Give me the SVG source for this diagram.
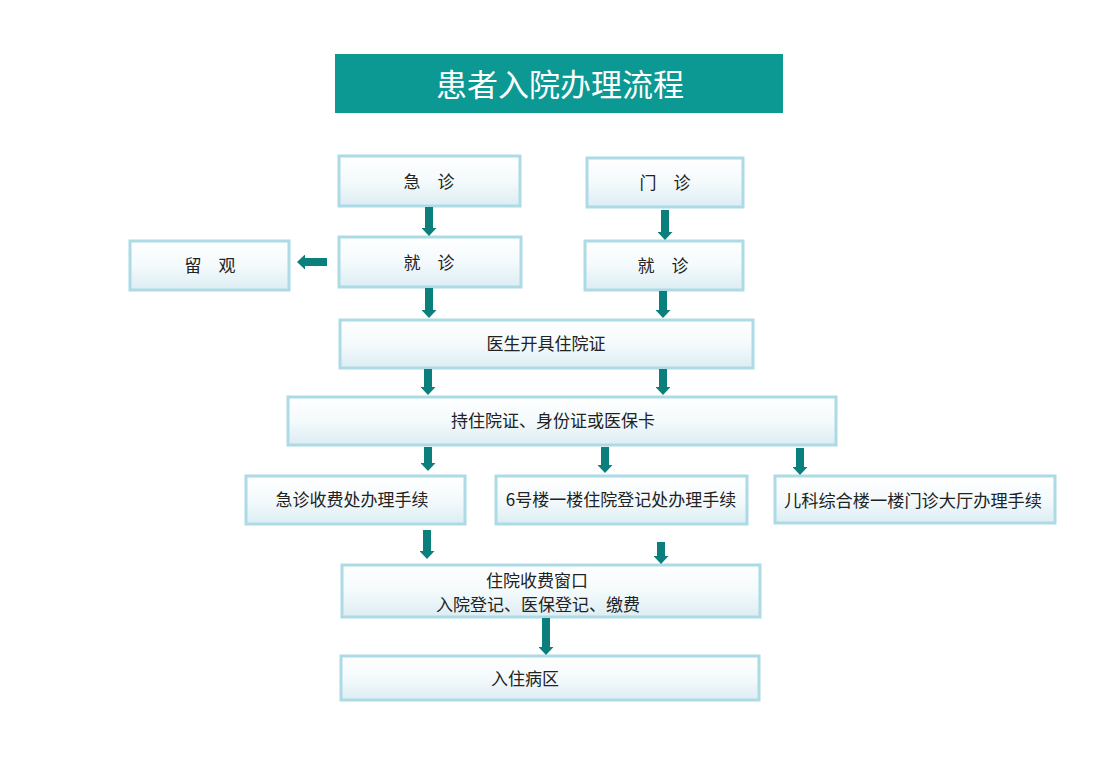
<svg xmlns="http://www.w3.org/2000/svg" width="1100" height="774" viewBox="0 0 1100 774">
<defs>
<linearGradient id="g" x1="0" y1="0" x2="0" y2="1">
<stop offset="0" stop-color="#ffffff"/>
<stop offset="0.5" stop-color="#f4fafc"/>
<stop offset="1" stop-color="#dcedf3"/>
</linearGradient>
<marker id="ah" markerUnits="userSpaceOnUse" markerWidth="8" markerHeight="15" refX="0" refY="7.5" orient="auto" viewBox="0 0 8 15">
<path d="M0,0 L8,7.5 L0,15 z" fill="#0b7f7b"/>
</marker>
<style>
.box{fill:url(#g);stroke:#acdae5;stroke-width:3}
.t{font-family:"Noto Sans CJK SC","Liberation Serif",serif;font-size:17px;fill:#222;text-anchor:middle;dominant-baseline:central}
.a{stroke:#0b7f7b;stroke-width:8;fill:none;marker-end:url(#ah)}
</style>
</defs>
<rect width="1100" height="774" fill="#ffffff"/>
<g id="title">
<rect x="335" y="54" width="448" height="59" fill="#0c9893"/>
<text x="560" y="82" font-family="Noto Sans CJK SC, sans-serif" font-size="31" fill="#ffffff" text-anchor="middle" dominant-baseline="central">患者入院办理流程</text>
</g>
<g id="n-jizhen"><rect class="box" x="339" y="156" width="181" height="50"/><text class="t" x="429" y="180">急　诊</text></g>
<g id="n-menzhen"><rect class="box" x="587" y="158" width="156" height="49"/><text class="t" x="665" y="181">门　诊</text></g>
<g id="n-jiuzhen1"><rect class="box" x="339" y="237" width="182" height="50"/><text class="t" x="429" y="261">就　诊</text></g>
<g id="n-liuguan"><rect class="box" x="130" y="241" width="159" height="49"/><text class="t" x="210" y="264">留　观</text></g>
<g id="n-jiuzhen2"><rect class="box" x="585" y="241" width="158" height="49"/><text class="t" x="663" y="264">就　诊</text></g>
<g id="n-yisheng"><rect class="box" x="340" y="320" width="413" height="48"/><text class="t" x="546" y="342">医生开具住院证</text></g>
<g id="n-chi"><rect class="box" x="288" y="397" width="548" height="48"/><text class="t" x="553" y="419">持住院证、身份证或医保卡</text></g>
<g id="n-jizhenshoufei"><rect class="box" x="246" y="476" width="219" height="48"/><text class="t" x="352" y="498">急诊收费处办理手续</text></g>
<g id="n-6hao"><rect class="box" x="496" y="476" width="251" height="48"/><text class="t" x="621" y="498">6号楼一楼住院登记处办理手续</text></g>
<g id="n-erke"><rect class="box" x="775" y="476" width="280" height="47"/><text class="t" x="913" y="499" textLength="258" lengthAdjust="spacingAndGlyphs">儿科综合楼一楼门诊大厅办理手续</text></g>
<g id="n-zhuyuanshoufei"><rect class="box" x="342" y="565" width="418" height="52"/><text class="t" x="537" y="579">住院收费窗口</text><text class="t" x="538" y="603">入院登记、医保登记、缴费</text></g>
<g id="n-ruzhu"><rect class="box" x="341" y="656" width="418" height="44"/><text class="t" x="525" y="677">入住病区</text></g>
<g id="connectors">
<line class="a" x1="429" y1="207" x2="429" y2="228"/>
<line class="a" x1="665" y1="210" x2="665" y2="232"/>
<line class="a" x1="327" y1="262" x2="305" y2="262"/>
<line class="a" x1="429" y1="288" x2="429" y2="310"/>
<line class="a" x1="663" y1="291" x2="663" y2="310"/>
<line class="a" x1="428" y1="369" x2="428" y2="387"/>
<line class="a" x1="663" y1="369" x2="663" y2="387"/>
<line class="a" x1="428" y1="447" x2="428" y2="463"/>
<line class="a" x1="605" y1="447" x2="605" y2="465"/>
<line class="a" x1="800" y1="448" x2="800" y2="467"/>
<line class="a" x1="427" y1="530" x2="427" y2="551"/>
<line class="a" x1="661" y1="542" x2="661" y2="556"/>
<line class="a" x1="546" y1="618" x2="546" y2="647"/>
</g>
</svg>
